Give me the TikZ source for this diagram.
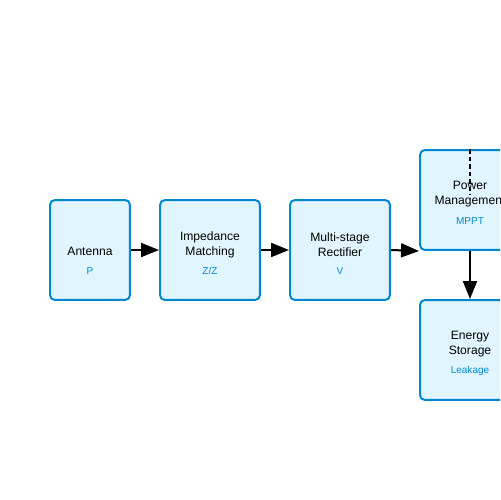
\documentclass[tikz,border=0pt]{standalone}
\usepackage{fontspec}
\setmainfont{Liberation Sans}
\usepackage{xcolor}
\usetikzlibrary{positioning,arrows.meta}
\definecolor{blockfill}{HTML}{E1F5FE}
\definecolor{blockdraw}{HTML}{0288D1}
\tikzset{
    block/.style={rectangle, rounded corners=2.8pt, draw=blockdraw, fill=blockfill, line width=0.04cm, minimum height=2cm, inner sep=0pt},
    narrow block/.style={block, minimum width=1.6cm},
    wide block/.style={block, minimum width=2cm},
    block label/.style={font=\fontsize{6.9}{8.6}\selectfont, align=center, inner sep=0pt},
    block note/.style={font=\fontsize{5.7}{7}\selectfont, text=blockdraw, inner sep=0pt},
    flow/.style={-{Triangle[length=0.36cm, width=0.28cm]}, line width=0.04cm},
    feedback/.style={line width=0.04cm, dash pattern=on 0.09cm off 0.06cm}
}

\begin{document}
\begin{tikzpicture}[x=0.02cm, y=-0.02cm]
    % Page frame
    \useasboundingbox (0,0) rectangle (500,500);
    \clip (0,0) rectangle (500,500);

    % Blocks
    \node[narrow block] (ant) at (90,250) {};
    \node[wide block] (imp) at (210,250) {};
    \node[wide block] (rect) at (340,250) {};
    \node[wide block] (pm) at (470,200) {};
    \node[wide block] (es) at (470,350) {};

    % Labels
    \node[block label] (ant-t) at (90,251) {Antenna};
    \node[block note] (ant-n) at (90,271) {P};
    \node[block label] (imp-t) at (210,244.5) {Impedance\\Matching};
    \node[block note] (imp-n) at (210,271) {Z/Z};
    \node[block label] (rect-t) at (340,244.5) {Multi-stage\\Rectifier};
    \node[block note] (rect-n) at (340,271) {V};
    \node[block label] (pm-t) at (470,194.5) {Power\\Management};
    \node[block note] (pm-n) at (470,221) {MPPT};
    \node[block label] (es-t) at (470,344.5) {Energy\\Storage};
    \node[block note] (es-n) at (470,371) {Leakage};

    % Power flow
    \draw[flow] (ant) -- (imp);
    \draw[flow] (imp) -- (rect);
    \draw[flow] (rect.east) -- (pm.south west);
    \draw[flow] (pm) -- (es);

    % Feedback
    \coordinate (fb) at (470,195);
    \draw[feedback] (pm.north) -- (fb);
\end{tikzpicture}
\end{document}
